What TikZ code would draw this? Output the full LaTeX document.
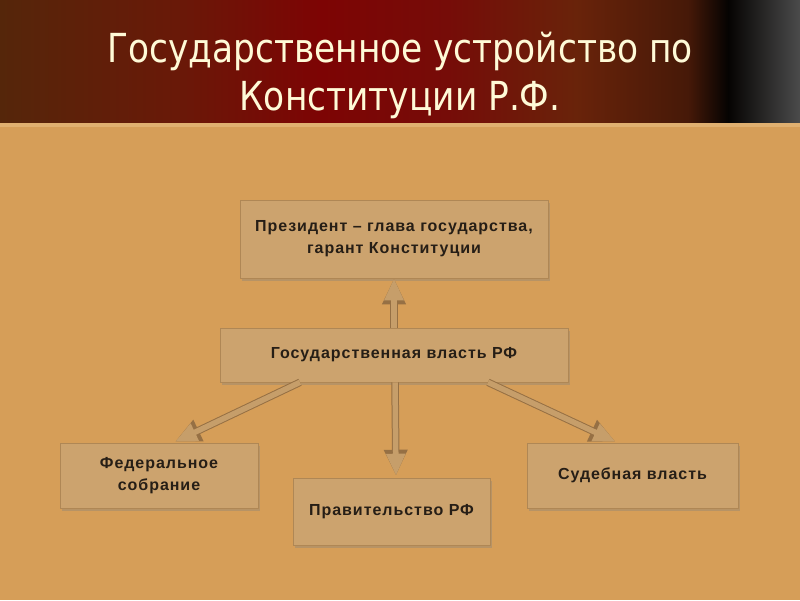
\documentclass[tikz,border=0pt]{standalone}
\usepackage{fontspec}
\setmainfont{Liberation Sans}
\newfontfamily\boxfont[LetterSpace=6]{Liberation Sans}
\newfontfamily\titlefont[FakeStretch=0.86]{DejaVu Sans}
\usetikzlibrary{arrows.meta,shadows,calc}
\definecolor{bgc}{RGB}{214,158,88}
\definecolor{boxc}{RGB}{204,163,110}
\definecolor{boxd}{RGB}{175,135,85}
\definecolor{arrl}{RGB}{198,158,106}
\definecolor{arrd}{RGB}{150,112,68}
\definecolor{txt}{RGB}{38,30,22}
\definecolor{ttl}{RGB}{255,250,215}
\definecolor{band}{RGB}{224,176,112}
\definecolor{hA}{RGB}{85,38,10}
\definecolor{hB}{RGB}{105,25,8}
\definecolor{hC}{RGB}{125,4,4}
\definecolor{hD}{RGB}{118,12,8}
\definecolor{hE}{RGB}{105,35,10}
\definecolor{hF}{RGB}{70,25,8}
\definecolor{hG}{RGB}{5,3,2}
\definecolor{hH}{RGB}{75,75,75}
\pgfdeclarehorizontalshading{hdr}{100bp}{color(0bp)=(hA); color(25bp)=(hA); color(36bp)=(hB); color(45bp)=(hC); color(53bp)=(hD); color(61bp)=(hE); color(68bp)=(hF); color(70.5bp)=(hG); color(75bp)=(hH); color(100bp)=(hH)}
\tikzset{
  box/.style={draw=boxd, line width=0.6pt, fill=boxc, align=center, text=txt,
    font=\boxfont\fontsize{16}{22}\selectfont\bfseries, inner sep=0pt,
    drop shadow={opacity=0.35, shadow xshift=2pt, shadow yshift=-2.5pt}},
  arr/.style={line width=5.5pt, color=arrl, -{Triangle[width=18pt,length=22pt]},
    preaction={draw=arrd, line width=7.5pt, -{Triangle[width=22pt,length=26pt]}}}
}
\begin{document}
\begin{tikzpicture}[x=1pt,y=-1pt]
\useasboundingbox (0,0) rectangle (800,600);
\fill[bgc] (0,0) rectangle (800,600);
\shade[shading=hdr] (0,0) rectangle (800,123);
\fill[band] (0,123) rectangle (800,127);
\node[font=\titlefont\fontsize{40}{48}\selectfont, text=ttl, anchor=base] (t1) at (400,62) {Государственное устройство по};
\node[font=\titlefont\fontsize{40}{48}\selectfont, text=ttl, anchor=base] (t2) at (400,110) {Конституции Р.Ф.};

\node[box, minimum width=308pt, minimum height=78pt] (pres) at (394,239) {Президент – глава государства,\\гарант Конституции};
\node[box, minimum width=348pt, minimum height=54pt] (gov) at (394,355) {Государственная власть РФ};
\node[box, minimum width=198pt, minimum height=65pt] (fed) at (159,475.5) {Федеральное\\собрание};
\node[box, minimum width=197pt, minimum height=67pt] (govt) at (391.5,511.5) {Правительство РФ};
\node[box, minimum width=211pt, minimum height=65pt] (jud) at (632.5,475.5) {Судебная власть};

\draw[arr] (gov.north) -- (pres.south);
\draw[arr] ($(gov.south)+(1,0)$) -- ($(govt.north)+(4.5,-2)$);
\draw[arr] ($(gov.south)+(-94,0)$) -- ($(fed.north)+(16,-1)$);
\draw[arr] ($(gov.south)+(94,0)$) -- ($(jud.north)+(-17,-1)$);
\end{tikzpicture}
\end{document}
